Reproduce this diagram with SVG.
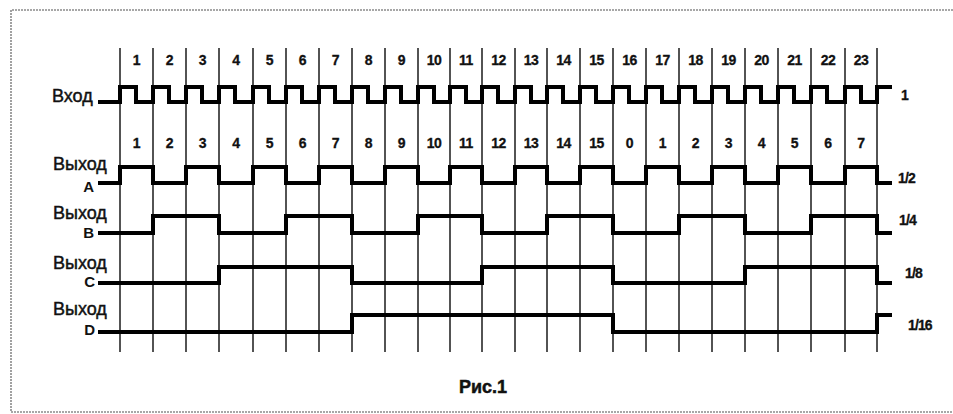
<svg xmlns="http://www.w3.org/2000/svg" width="953" height="414" viewBox="0 0 953 414">
<style>
.frame{fill:none;stroke:#8a8a8a;stroke-width:1.6;stroke-dasharray:2 1}
.grid line{stroke:#1a1a1a;stroke-width:1.5}
.wave{fill:none;stroke:#000;stroke-width:4;stroke-linejoin:miter;stroke-linecap:butt}
.lbl{font-family:"Liberation Sans",Arial,sans-serif;font-size:18px;fill:#111;stroke:#111;stroke-width:0.45}
.let{font-family:"Liberation Sans",Arial,sans-serif;font-size:15px;font-weight:bold;fill:#111;text-anchor:end}
.num{font-family:"Liberation Sans",Arial,sans-serif;font-size:14px;font-weight:bold;fill:#111;text-anchor:middle;letter-spacing:-0.5px;stroke:#111;stroke-width:0.3}
.frac{font-family:"Liberation Sans",Arial,sans-serif;font-size:14px;font-weight:bold;fill:#111;letter-spacing:-0.9px;stroke:#111;stroke-width:0.3}
.cap{font-family:"Liberation Sans",Arial,sans-serif;font-size:18px;font-weight:bold;fill:#111;text-anchor:middle;stroke:#111;stroke-width:0.5}
</style>
<rect width="953" height="414" fill="#fff"/>
<path class="frame" d="M953,10 H11 V412 H953"/>
<g id="grid" class="grid">
<line x1="120" y1="48" x2="120" y2="352"/><line x1="153" y1="48" x2="153" y2="352"/><line x1="186" y1="48" x2="186" y2="352"/><line x1="219" y1="48" x2="219" y2="352"/><line x1="253" y1="48" x2="253" y2="352"/><line x1="286" y1="48" x2="286" y2="352"/><line x1="319" y1="48" x2="319" y2="352"/><line x1="352" y1="48" x2="352" y2="352"/><line x1="385" y1="48" x2="385" y2="352"/><line x1="418" y1="48" x2="418" y2="352"/><line x1="450" y1="48" x2="450" y2="352"/><line x1="482" y1="48" x2="482" y2="352"/><line x1="515" y1="48" x2="515" y2="352"/><line x1="547" y1="48" x2="547" y2="352"/><line x1="580" y1="48" x2="580" y2="352"/><line x1="613" y1="48" x2="613" y2="352"/><line x1="646" y1="48" x2="646" y2="352"/><line x1="679" y1="48" x2="679" y2="352"/><line x1="712" y1="48" x2="712" y2="352"/><line x1="745" y1="48" x2="745" y2="352"/><line x1="778" y1="48" x2="778" y2="352"/><line x1="811" y1="48" x2="811" y2="352"/><line x1="845" y1="48" x2="845" y2="352"/><line x1="877" y1="48" x2="877" y2="352"/>
</g>
<g id="row-top-numbers">
<text class="num" x="136.5" y="65">1</text><text class="num" x="169.5" y="65">2</text><text class="num" x="202.5" y="65">3</text><text class="num" x="236" y="65">4</text><text class="num" x="269.5" y="65">5</text><text class="num" x="302.5" y="65">6</text><text class="num" x="335.5" y="65">7</text><text class="num" x="368.5" y="65">8</text><text class="num" x="401.5" y="65">9</text><text class="num" x="434" y="65">10</text><text class="num" x="466" y="65">11</text><text class="num" x="498.5" y="65">12</text><text class="num" x="531" y="65">13</text><text class="num" x="563.5" y="65">14</text><text class="num" x="596.5" y="65">15</text><text class="num" x="629.5" y="65">16</text><text class="num" x="662.5" y="65">17</text><text class="num" x="695.5" y="65">18</text><text class="num" x="728.5" y="65">19</text><text class="num" x="761.5" y="65">20</text><text class="num" x="794.5" y="65">21</text><text class="num" x="828" y="65">22</text><text class="num" x="861" y="65">23</text>
</g>
<g id="row-count-numbers">
<text class="num" x="136.5" y="148">1</text><text class="num" x="169.5" y="148">2</text><text class="num" x="202.5" y="148">3</text><text class="num" x="236" y="148">4</text><text class="num" x="269.5" y="148">5</text><text class="num" x="302.5" y="148">6</text><text class="num" x="335.5" y="148">7</text><text class="num" x="368.5" y="148">8</text><text class="num" x="401.5" y="148">9</text><text class="num" x="434" y="148">10</text><text class="num" x="466" y="148">11</text><text class="num" x="498.5" y="148">12</text><text class="num" x="531" y="148">13</text><text class="num" x="563.5" y="148">14</text><text class="num" x="596.5" y="148">15</text><text class="num" x="629.5" y="148">0</text><text class="num" x="662.5" y="148">1</text><text class="num" x="695.5" y="148">2</text><text class="num" x="728.5" y="148">3</text><text class="num" x="761.5" y="148">4</text><text class="num" x="794.5" y="148">5</text><text class="num" x="828" y="148">6</text><text class="num" x="861" y="148">7</text>
</g>
<g id="input">
<text class="lbl" x="52" y="102">Вход</text>
<path class="wave" d="M98,102 H120 V87 H136 V102 H153 V87 H169 V102 H186 V87 H202 V102 H219 V87 H235 V102 H253 V87 H269 V102 H286 V87 H302 V102 H319 V87 H335 V102 H352 V87 H368 V102 H385 V87 H401 V102 H418 V87 H434 V102 H450 V87 H466 V102 H482 V87 H498 V102 H515 V87 H531 V102 H547 V87 H563 V102 H580 V87 H596 V102 H613 V87 H629 V102 H646 V87 H662 V102 H679 V87 H695 V102 H712 V87 H728 V102 H745 V87 H761 V102 H778 V87 H794 V102 H811 V87 H827 V102 H845 V87 H861 V102 H877 V87 H892"/>
<text class="frac" x="901" y="100">1</text>
</g>
<g id="output-a">
<text class="lbl" x="53" y="170">Выход</text>
<text class="let" x="94" y="192">A</text>
<path class="wave" d="M98,183 H120 V167 H153 V183 H186 V167 H219 V183 H253 V167 H286 V183 H319 V167 H352 V183 H385 V167 H418 V183 H450 V167 H482 V183 H515 V167 H547 V183 H580 V167 H613 V183 H646 V167 H679 V183 H712 V167 H745 V183 H778 V167 H811 V183 H845 V167 H877 V183 H892"/>
<text class="frac" x="898" y="183">1/2</text>
</g>
<g id="output-b">
<text class="lbl" x="53" y="219">Выход</text>
<text class="let" x="94" y="238">B</text>
<path class="wave" d="M98,233 H153 V216 H219 V233 H286 V216 H352 V233 H418 V216 H482 V233 H547 V216 H613 V233 H679 V216 H745 V233 H811 V216 H877 V233 H892"/>
<text class="frac" x="899" y="225">1/4</text>
</g>
<g id="output-c">
<text class="lbl" x="53" y="269">Выход</text>
<text class="let" x="95" y="287">C</text>
<path class="wave" d="M98,283 H219 V267 H352 V283 H482 V267 H613 V283 H745 V267 H877 V283 H892"/>
<text class="frac" x="905" y="278">1/8</text>
</g>
<g id="output-d">
<text class="lbl" x="53" y="315">Выход</text>
<text class="let" x="95" y="335">D</text>
<path class="wave" d="M98,332 H352 V315 H613 V332 H877 V315 H892"/>
<text class="frac" x="908" y="330">1/16</text>
</g>
<text class="cap" x="483" y="393">Рис.1</text>
</svg>
